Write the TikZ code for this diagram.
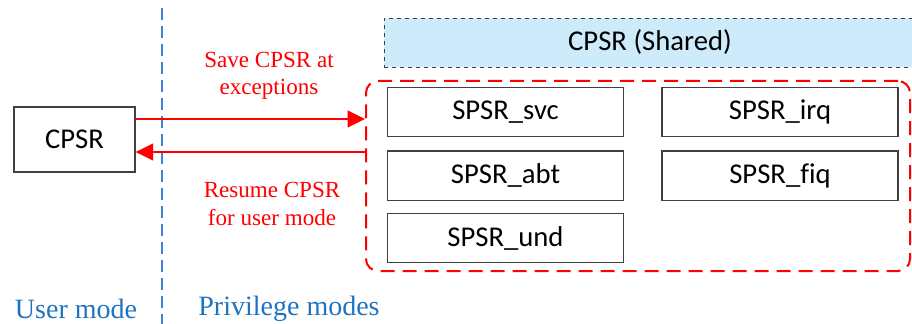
\documentclass[tikz,border=0pt]{standalone}
\usepackage{fontspec}
\setmainfont{Liberation Serif}
\newfontfamily\boxfont[Ligatures=CommonOff]{Carlito}
\usepackage{xcolor}
\usepackage{tikz}
\usetikzlibrary{calc, positioning, arrows.meta}

\definecolor{modeblue}{RGB}{30,115,195}
\definecolor{lineblue}{RGB}{64,128,215}
\definecolor{sharedfill}{RGB}{205,235,250}
\definecolor{boxgray}{RGB}{64,64,64}

\begin{document}
\begin{tikzpicture}[x=0.75pt, y=-0.75pt,
    regbox/.style={draw=boxgray, line width=1pt, minimum width=177pt, minimum height=37pt,
        inner sep=0pt, font=\boxfont\fontsize{21.5}{21.5}\selectfont},
    redarrow/.style={red, line width=1.3pt, -{Triangle[length=13pt, width=12.5pt]}},
    redlabel/.style={red, align=center, font=\fontsize{17.3}{20.5}\selectfont},
    modelabel/.style={modeblue, font=\fontsize{21}{21}\selectfont}]
    \useasboundingbox (0,0) rectangle (912,324);
    \clip (0,0) rectangle (912,324);

    % 1. Đường phân chia giữa hai chế độ
    \draw[lineblue, line width=1.1pt, dash pattern=on 9pt off 4.5pt] (162,8) -- (162,324);
    \node[modelabel] (user) at (76,309) {User mode};
    \node[modelabel] (priv) at (289,309) {Privilege modes};

    % 2. Thanh ghi CPSR của chế độ người dùng
    \node[regbox, minimum width=90.75pt, minimum height=48.75pt] (cpsr) at (74.5,139.5) {CPSR};

    % 3. CPSR dùng chung và nhóm các SPSR
    \node[draw=boxgray, fill=sharedfill, dashed, line width=0.7pt, minimum width=399pt,
        minimum height=36.75pt, font=\boxfont\fontsize{21.5}{21.5}\selectfont] (shared) at (650,42.5) {CPSR (Shared)};
    \node[draw=red, line width=1.5pt, dash pattern=on 10.5pt off 6pt, rounded corners=9pt,
        minimum width=408pt, minimum height=142.5pt] (grp) at (638,176) {};

    \node[regbox] (svc) at (505.5,112) {SPSR\_svc};
    \node[regbox] (abt) at (505.5,175.5) {SPSR\_abt};
    \node[regbox] (und) at (505.5,238) {SPSR\_und};
    \node[regbox] (irq) at (780,112) {SPSR\_irq};
    \node[regbox] (fiq) at (780,175.5) {SPSR\_fiq};

    % 4. Hai mũi tên lưu và khôi phục CPSR
    \coordinate (savept) at ($(cpsr.east)+(0,-20.5)$);
    \coordinate (backpt) at ($(cpsr.east)+(0,12.5)$);
    \draw[redarrow] (savept) -- (savept -| grp.west);
    \draw[redarrow] (backpt -| grp.west) -- (backpt);

    \node[redlabel] (save) at (269,76) {Save CPSR at\\exceptions};
    \node[redlabel] (resume) at (272,204) {Resume CPSR\\for user mode};

\end{tikzpicture}
\end{document}
